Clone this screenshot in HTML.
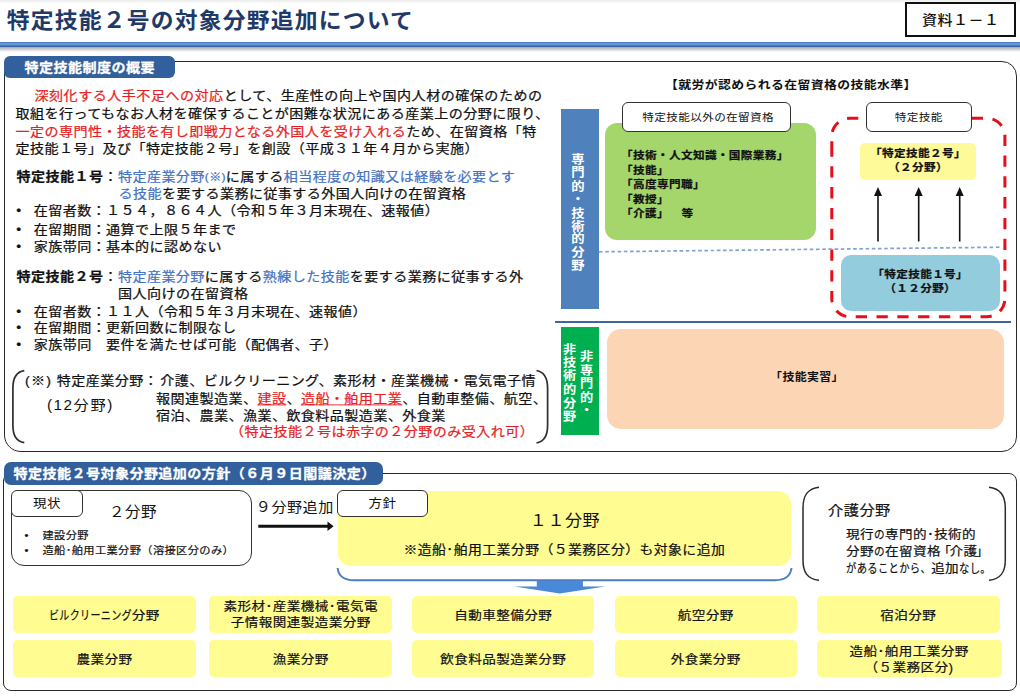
<!DOCTYPE html>
<html lang="ja">
<head>
<meta charset="utf-8">
<title>特定技能２号の対象分野追加について</title>
<style>
html,body{margin:0;padding:0;}
body{width:1020px;height:700px;position:relative;overflow:hidden;background:#fff;
 font-family:"Liberation Sans","Noto Sans CJK JP",sans-serif;color:#111;}
.a{position:absolute;white-space:nowrap;}
.b{font-weight:700;}
.r{color:#e81e25;}
.bl{color:#4472c4;}
#topshade{left:0;top:0;width:1020px;height:4px;background:linear-gradient(#ececec,#fff);}
#title{left:6.8px;top:1.8px;font-size:22.80px;letter-spacing:1.20px;line-height:36px;font-weight:700;color:#1f3a68;}
#ref{left:905px;top:2px;width:107.3px;height:30.6px;border:2px solid #111;background:#fff;text-align:center;font-size:15.04px;letter-spacing:0.47px;line-height:32.6px;font-weight:500;}
#hline{left:0;top:42px;width:1020px;height:5.2px;background:linear-gradient(#3d72b4 0%,#66a3e6 35%,#4f86c8 65%,#36598a 100%);}
#hline2{left:0;top:47.2px;width:1020px;height:4.5px;background:linear-gradient(#a4a8ae,#fff);}
.box{border:1.8px solid #2a2a2a;box-sizing:border-box;background:#fff;}
#box1{left:3.5px;top:60.7px;width:1013.2px;height:391px;border-radius:8px 15px 15px 17px;}
#box2{left:3.2px;top:473px;width:1013.9px;height:217.8px;border-radius:8px;}
.lab{background:#32609c;color:#fff;font-weight:700;-webkit-text-stroke:0.3px;border-radius:7px;box-sizing:border-box;font-size:14.06px;letter-spacing:0.44px;}
#lab1{left:3.5px;top:56px;width:171.2px;height:22px;line-height:22px;padding-left:21px;border-radius:6px;}
#lab2{left:3.5px;top:462.2px;width:379px;height:22.4px;line-height:22px;padding-left:10px;}
.t{font-size:14.06px;letter-spacing:0.44px;line-height:18px;-webkit-text-stroke:0.25px;}
.sm{font-size:11.93px;letter-spacing:0.37px;}
.u{text-decoration:underline;text-underline-offset:2px;text-decoration-thickness:1px;}
.vs{color:#fff;text-align:center;white-space:normal;letter-spacing:0;}
.lb{border:1.6px solid #333;border-radius:6px;background:#fff;box-sizing:border-box;text-align:center;font-size:11.64px;letter-spacing:0.36px;line-height:28px;}
.g{font-size:11.64px;letter-spacing:0.36px;line-height:14.5px;-webkit-text-stroke:0.25px;}
.k{display:inline-block;transform-origin:0 50%;}
.q{display:inline-block;transform:scaleY(0.92);transform-origin:50% 50%;}
.t,.s,.n,.g0,.q0{transform:scaleY(0.92);transform-origin:0 50%;}
#title{transform:scaleY(.97);transform-origin:0 50%;}
.lb2{border:1.8px solid #333;border-radius:6px;background:#fff;box-sizing:border-box;text-align:center;font-size:13.58px;letter-spacing:0.42px;line-height:25.6px;}
.s{font-size:11.25px;letter-spacing:0.35px;line-height:16px;-webkit-text-stroke:0.2px;}
.n{font-size:13.58px;letter-spacing:0.42px;line-height:20px;-webkit-text-stroke:0.22px;}
.cell{width:183px;height:37px;background:#fffc92;border-radius:5px;text-align:center;font-size:13.58px;letter-spacing:0.42px;line-height:39px;-webkit-text-stroke:0.22px;}
.c2{line-height:16.63px;padding-top:3.6px;box-sizing:border-box;}
</style>
</head>
<body>
<div class="a" id="topshade"></div>
<div class="a" id="title">特定技能２号の対象分野追加について</div>
<div class="a" id="ref"><span class="q">資料１－１</span></div>
<div class="a" id="hline"></div><div class="a" id="hline2"></div>
<div class="a box" id="box1"></div>
<div class="a lab" id="lab1"><span class="q">特定技能制度の概要</span></div>

<div class="a t" style="left:34.5px;top:86.4px;letter-spacing:0.5px;"><span class="r">深刻化する人手不足への対応</span>として、生産性の向上や国内人材の確保のための</div>
<div class="a t" style="left:15.5px;top:103.6px;">取組を行ってもなお人材を確保することが困難な状況にある産業上の分野に限り、</div>
<div class="a t" style="left:15.5px;top:121.7px;"><span class="r">一定の専門性・技能を有し即戦力となる外国人を受け入れる</span>ため、在留資格「特</div>
<div class="a t" style="left:15.5px;top:138.8px;">定技能１号」及び「特定技能２号」を創設（平成３１年４月から実施）</div>

<div class="a t" style="left:16.5px;top:166.7px;"><span class="b">特定技能１号</span>：<span class="bl">特定産業分野<span class="sm">(※)</span></span>に属する<span class="bl">相当程度の知識又は経験を必要とす</span></div>
<div class="a t" style="left:118.5px;top:184px;"><span class="bl">る技能</span>を要する業務に従事する外国人向けの在留資格</div>
<div class="a t" style="left:16.3px;top:201.3px;">•</div><div class="a t" style="left:33.7px;top:201.3px;">在留者数：１５４，８６４人（令和５年３月末現在、速報値）</div>
<div class="a t" style="left:16.3px;top:219.5px;">•</div><div class="a t" style="left:33.7px;top:219.5px;">在留期間：通算で上限５年まで</div>
<div class="a t" style="left:16.3px;top:237px;">•</div><div class="a t" style="left:33.7px;top:237px;">家族帯同：基本的に認めない</div>

<div class="a t" style="left:16.5px;top:267.3px;"><span class="b">特定技能２号</span>：<span class="bl">特定産業分野</span>に属する<span class="bl">熟練した技能</span>を要する業務に従事する外</div>
<div class="a t" style="left:118px;top:284.4px;">国人向けの在留資格</div>
<div class="a t" style="left:16.3px;top:301.5px;">•</div><div class="a t" style="left:33.7px;top:301.5px;">在留者数：１１人（令和５年３月末現在、速報値）</div>
<div class="a t" style="left:16.3px;top:318.4px;">•</div><div class="a t" style="left:33.7px;top:318.4px;">在留期間：更新回数に制限なし</div>
<div class="a t" style="left:16.3px;top:335.2px;">•</div><div class="a t" style="left:33.7px;top:335.2px;">家族帯同　要件を満たせば可能（配偶者、子）</div>

<svg class="a" style="left:8px;top:366px;" width="548" height="82" viewBox="0 0 548 82">
 <path d="M16.3 4.7 C8 6 4.9 12 4.9 22 L4.9 59.5 C4.9 69.5 8 75.5 16.3 76.6" fill="none" stroke="#2e2e2e" stroke-width="1.7"/>
 <path d="M528.5 4.5 C536.5 6 539.6 12 539.6 22 L539.6 59.5 C539.6 69.5 536.5 75.5 528.5 77" fill="none" stroke="#2e2e2e" stroke-width="1.7"/>
</svg>
<div class="a t" style="left:25px;top:371.3px;"><span style="letter-spacing:1.3px">(※)</span><span style="letter-spacing:0;font-size:9px;margin-right:2px"> </span>特定産業分野<span style="margin-right:2px">：</span>介護、ビルクリーニング、素形材・産業機械・電気電子情</div>
<div class="a q0" style="left:47px;top:394.6px;font-size:15.3px;letter-spacing:1.5px;line-height:20px;">(12分野)</div>
<div class="a t" style="left:156px;top:388.5px;">報関連製造業、<span class="r u">建設</span>、<span class="r u">造船・舶用工業</span>、自動車整備、航空、</div>
<div class="a t" style="left:156px;top:405.5px;">宿泊、農業、漁業、飲食料品製造業、外食業</div>
<div class="a t r" style="left:230px;top:422.3px;">（特定技能２号は赤字の２分野のみ受入れ可）</div>


<div class="a b q0" style="left:665px;top:75.7px;width:250px;text-align:center;font-size:12.85px;letter-spacing:0.40px;line-height:18px;">【就労が認められる在留資格の技能水準】</div>
<div class="a" style="left:560.7px;top:109.2px;width:38.2px;height:199.6px;background:#4f81bd;"></div>
<div class="a b vs" style="left:560.5px;top:148.9px;width:35px;font-size:13.3px;line-height:14.40px;"><span class="q">専<br>門<br>的<br>・<br>技<br>術<br>的<br>分<br>野</span></div>
<div class="a" style="left:604.8px;top:123.1px;width:211.4px;height:116.5px;background:#a5d66b;border-radius:12px;"></div>
<div class="a lb" style="left:622px;top:101.6px;width:169.3px;height:30.2px;padding-left:3px;"><span class="q">特定技能以外の在留資格</span></div>
<div class="a b g q0" style="left:621px;top:148.3px;">「技術・人文知識・国際業務」</div>
<div class="a b g q0" style="left:621px;top:162.8px;">「技能」</div>
<div class="a b g q0" style="left:621px;top:177.3px;">「高度専門職」</div>
<div class="a b g q0" style="left:621px;top:191.8px;">「教授」</div>
<div class="a b g q0" style="left:621px;top:206.3px;">「介護」　&nbsp;&thinsp;等</div>
<svg class="a" style="left:825px;top:110px;" width="190" height="215" viewBox="0 0 190 215">
 <path d="M 6.8 35.5 L 6.8 188.7 A 18 18 0 0 0 24.8 206.7 L 161.9 206.7 A 18 18 0 0 0 179.9 188.7 L 179.9 26.3 A 18 18 0 0 0 161.9 8.3 L 24.8 8.3 A 18 18 0 0 0 6.8 26.3 Z" fill="none" stroke="#e40f18" stroke-width="3" stroke-dasharray="11.3 9.5"/>
 <g stroke="#111" stroke-width="1.6" fill="#111">
  <line x1="53" y1="131.5" x2="53" y2="84"/><path d="M53 77 L57 86 L49 86 Z" stroke="none"/>
  <line x1="93.7" y1="131.5" x2="93.7" y2="84"/><path d="M93.7 77 L97.7 86 L89.7 86 Z" stroke="none"/>
  <line x1="134.7" y1="131.5" x2="134.7" y2="84"/><path d="M134.7 77 L138.7 86 L130.7 86 Z" stroke="none"/>
 </g>
</svg>
<div class="a lb" style="left:865.5px;top:101.6px;width:106.5px;height:30.2px;"><span class="q">特定技能</span></div>
<div class="a b g" style="left:860.2px;top:142.8px;width:115.6px;height:37.6px;background:#fffa99;border-radius:5px;text-align:center;line-height:15.22px;padding-top:2.6px;box-sizing:border-box;"><span class="q">「特定技能２号」<br>（２分野）</span></div>
<svg class="a" style="left:595px;top:240px;" width="410" height="20" viewBox="0 0 410 20"><line x1="4" y1="11.8" x2="405" y2="7.2" stroke="#7fa3d4" stroke-width="1.7" stroke-dasharray="3.6 2.6"/></svg>
<div class="a b g" style="left:840.5px;top:254.8px;width:159.3px;height:56px;background:#93cddd;border-radius:10px;text-align:center;line-height:14.78px;padding-top:12px;box-sizing:border-box;"><span class="q">「特定技能１号」<br>（１２分野）</span></div>
<div class="a" style="left:555px;top:321.3px;width:456px;height:1.9px;background:#3f669d;"></div>
<div class="a" style="left:561px;top:326.7px;width:37.5px;height:108px;background:#00b050;"></div>
<div class="a b vs" style="left:577px;top:348.3px;width:19px;font-size:13.2px;line-height:14.67px;"><span class="q">非<br>専<br>門<br>的<br>・</span></div>
<div class="a b vs" style="left:560px;top:340.3px;width:19px;font-size:13.2px;line-height:14.67px;"><span class="q">非<br>技<br>術<br>的<br>分<br>野</span></div>
<div class="a" style="left:606.6px;top:329px;width:397.4px;height:100px;background:#fcd5b4;border-radius:14px;"></div>
<div class="a b q0" style="left:757px;top:368.3px;width:100px;text-align:center;font-size:11.93px;letter-spacing:0.37px;line-height:18px;">「技能実習」</div>

<div class="a box" id="box2"></div>
<div class="a lab" id="lab2"><span class="q">特定技能２号対象分野追加の方針（６月９日閣議決定）</span></div>

<div class="a" style="left:11px;top:490px;width:240.7px;height:76px;border:1.2px solid #333;border-radius:13px;box-sizing:border-box;"></div>
<div class="a lb2" style="left:11px;top:490px;width:72px;height:27.4px;"><span class="q">現状</span></div>
<div class="a q0" style="left:109px;top:500px;font-size:15.52px;letter-spacing:0.48px;line-height:24px;">２分野</div>
<div class="a s" style="left:24.5px;top:527px;">•</div><div class="a s" style="left:42.5px;top:527px;">建設分野</div>
<div class="a s" style="left:24.5px;top:541.5px;">•</div><div class="a s" style="left:42.5px;top:541.5px;">造船･舶用工業分野（溶接区分のみ）</div>
<div class="a q0" style="left:255.8px;top:495px;font-size:15.13px;letter-spacing:0.47px;line-height:24px;">９分野追加</div>
<svg class="a" style="left:255px;top:518px;" width="84" height="16" viewBox="0 0 84 16"><line x1="3.3" y1="8.3" x2="74" y2="8.3" stroke="#111" stroke-width="3"/><path d="M72.5 3.6 L78.6 8.3 L72.5 13 Z" fill="#111"/></svg>
<div class="a" style="left:337.5px;top:490.5px;width:453px;height:75px;background:#fffc92;border-radius:13px;"></div>
<div class="a lb2" style="left:337px;top:490.2px;width:91px;height:27.3px;"><span class="q">方針</span></div>
<div class="a q0" style="left:465px;top:508.5px;width:200px;text-align:center;font-size:17.07px;letter-spacing:0.53px;line-height:24px;">１１分野</div>
<div class="a q0" style="left:403.5px;top:539px;font-size:13.87px;letter-spacing:0.43px;line-height:20px;-webkit-text-stroke:0.22px;">※造船･舶用工業分野（５業務区分）も対象に追加</div>
<svg class="a" style="left:330px;top:562px;" width="470" height="36" viewBox="0 0 470 36">
 <path d="M7.6 6 C8.5 14 14 18.2 24 18.2 L445 18.2 C455 18.2 460.5 14 461.5 6" fill="none" stroke="#4a7ec0" stroke-width="2"/>
 <path d="M206.8 19 L252.9 19 L252.9 24.4 L275.3 24.4 L229.8 31.6 L184.4 24.4 L206.8 24.4 Z" fill="#4a88d8"/>
</svg>
<svg class="a" style="left:795px;top:480px;" width="220" height="108" viewBox="0 0 220 108">
 <path d="M24 7.2 C12 8.5 8 16 8 28 L8 80 C8 92 12 99 24 100.3" fill="none" stroke="#2a2a2a" stroke-width="1.5"/>
 <path d="M194 7.2 C206 8.5 210.3 16 210.3 28 L210.3 80 C210.3 92 206 99 194 100.3" fill="none" stroke="#2a2a2a" stroke-width="1.5"/>
</svg>
<div class="a q0" style="left:828px;top:497.5px;font-size:15.23px;letter-spacing:0.47px;line-height:24px;-webkit-text-stroke:0.22px;">介護分野</div>
<div class="a n" style="left:846px;top:524.8px;">現行<span class="k" style="transform:scaleX(0.78);margin-right:-3.08px">の</span>専門的･技術的</div>
<div class="a n" style="left:846px;top:541.8px;">分野<span class="k" style="transform:scaleX(0.78);margin-right:-3.08px">の</span>在留資格<span style="margin:0 -2px 0 -3.5px">「</span>介護<span style="margin:0 -4px 0 -2px">」</span></div>
<div class="a n" style="left:846px;top:558.8px;"><span class="k" style="transform:scaleX(0.76);margin-right:-26.88px">があることから、</span>追加<span class="k" style="transform:scaleX(0.76);margin-right:-10.08px">なし。</span></div>
<div class="a cell" style="left:12.9px;top:595.8px;width:183px;"><span class="q"><span class="k" style="transform:scaleX(0.74);margin-right:-29.12px">ビルクリーニング</span>分野</span></div>
<div class="a cell c2" style="left:209.3px;top:595.8px;width:183px;"><span class="q">素形材･産業機械･電気電<br>子情報関連製造業分野</span></div>
<div class="a cell" style="left:412.3px;top:595.8px;width:182px;"><span class="q">自動車整備分野</span></div>
<div class="a cell" style="left:614.6px;top:595.8px;width:182.5px;"><span class="q">航空分野</span></div>
<div class="a cell" style="left:816.6px;top:595.8px;width:183.4px;"><span class="q">宿泊分野</span></div>
<div class="a cell" style="left:12.9px;top:640.4px;width:183px;"><span class="q">農業分野</span></div>
<div class="a cell" style="left:209.3px;top:640.4px;width:183px;"><span class="q">漁業分野</span></div>
<div class="a cell" style="left:412.3px;top:640.4px;width:182px;"><span class="q">飲食料品製造業分野</span></div>
<div class="a cell" style="left:614.6px;top:640.4px;width:182.5px;"><span class="q">外食業分野</span></div>
<div class="a cell c2" style="left:816.6px;top:640.4px;width:185px;"><span class="q">造船･舶用工業分野<br>（５業務区分)</span></div>

</body>
</html>
